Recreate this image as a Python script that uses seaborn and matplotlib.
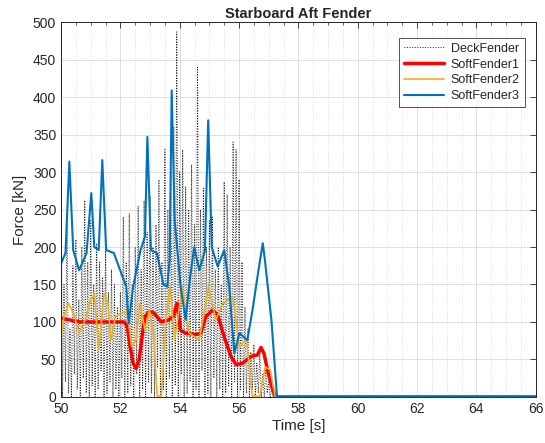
import numpy as np
import pandas as pd
import matplotlib
matplotlib.use("Agg")
import matplotlib.pyplot as plt
import seaborn as sns
from matplotlib.ticker import MultipleLocator

sns.set_style("white")
plt.rcParams['font.family'] = ['Liberation Sans', 'DejaVu Sans']

# ---------------- data ----------------
# DeckFender: oscillating contact force, peaks every 0.1 s starting 50.0, troughs in between
deck_peak_t0 = 50.0
deck_peaks = [280, 150, 235, 90, 175, 210, 130, 200, 262, 180,
              235, 150, 205, 180, 160, 195, 140, 170, 150, 120,
              140, 240, 180, 245, 150, 200, 255, 170, 262, 220,
              268, 200, 230, 290, 180, 330, 250, 300, 360, 487,
              300, 330, 280, 250, 310, 230, 440, 250, 280, 200,
              235, 240, 170, 200, 150, 287, 270, 200, 340, 330,
              290, 180, 120, 90, 60, 70, 45, 60, 30, 40,
              20, 10]
deck_troughs = [0, 20, 5, 0, 30, 10, 0, 25, 5, 0,
                15, 0, 10, 35, 0, 5, 20, 0, 10, 0,
                25, 0, 5, 15, 0, 30, 0, 10, 0, 20,
                5, 0, 40, 0, 10, 0, 25, 0, 15, 0,
                30, 0, 5, 20, 0, 10, 0, 35, 0, 5,
                0, 25, 0, 10, 0, 5, 15, 0, 20, 0,
                10, 0, 5, 0, 10, 0, 5, 0, 0, 5,
                0, 0]

sf1_t = [50.00, 50.25, 50.66, 52.13, 52.23, 52.33, 52.43, 52.53, 52.63, 52.73,
         52.83, 52.98, 53.13, 53.38, 53.63, 53.78, 53.91, 54.03, 54.20, 54.54,
         54.71, 54.88, 55.11, 55.28, 55.50, 55.73, 55.90, 56.12, 56.40, 56.62,
         56.74, 56.84, 56.96, 57.10, 57.22, 66.0]
sf1_f = [105, 103, 100, 100, 94, 67, 45, 38, 49, 80,
         107, 114, 112, 100, 103, 107, 125, 89, 85, 83,
         85, 107, 116, 109, 80, 54, 43, 45, 54, 56,
         66, 58, 36, 14, 0, 0]

sf2_t = [50.00, 50.10, 50.25, 50.41, 50.61, 50.81, 50.96, 51.12, 51.27, 51.45,
         51.57, 51.68, 51.83, 52.03, 52.23, 52.38, 52.53, 52.66, 52.83, 52.98,
         53.13, 53.24, 53.38, 53.53, 53.68, 53.83, 54.09, 54.32, 54.66, 54.97,
         55.22, 55.45, 55.79, 56.01, 56.25, 56.45, 56.70, 56.88, 57.05, 57.22,
         66.0]
sf2_f = [80, 107, 125, 112, 85, 103, 125, 138, 63, 138,
         129, 76, 107, 112, 114, 67, 76, 125, 89, 116,
         80, 1, 1, 103, 147, 76, 147, 85, 76, 147,
         103, 125, 134, 67, 76, 1, 1, 40, 36, 0,
         0]

sf3_t = [50.00, 50.15, 50.28, 50.41, 50.61, 50.86, 51.02, 51.12, 51.27, 51.39,
         51.52, 51.78, 52.03, 52.20, 52.28, 52.43, 52.68, 52.83, 52.91, 53.03,
         53.23, 53.45, 53.58, 53.66, 53.73, 53.83, 54.03, 54.20, 54.35, 54.49,
         54.66, 54.85, 54.96, 55.08, 55.28, 55.50, 55.67, 55.84, 56.01, 56.28,
         56.45, 56.62, 56.71, 56.80, 56.87, 57.09, 57.28, 66.0]
sf3_f = [178, 192, 314, 196, 169, 192, 272, 200, 196, 316,
         196, 192, 165, 147, 98, 147, 196, 214, 347, 196,
         192, 150, 147, 183, 409, 236, 147, 103, 160, 200,
         169, 195, 369, 200, 174, 196, 147, 58, 85, 76,
         115, 160, 183, 205, 183, 103, 0, 0]

x_ticks = [50, 52, 54, 56, 58, 60, 62, 64, 66]
y_ticks = [0, 50, 100, 150, 200, 250, 300, 350, 400, 450, 500]

# build deck series
deck_t, deck_f = [], []
for i, (p, tr) in enumerate(zip(deck_peaks, deck_troughs)):
    deck_t.append(round(deck_peak_t0 + 0.1 * i, 3))
    deck_f.append(p)
    deck_t.append(round(deck_peak_t0 + 0.1 * i + 0.05, 3))
    deck_f.append(tr)
deck_t += [57.25, 66.0]
deck_f += [0, 0]

# ---------------- plot ----------------
fig = plt.figure(figsize=(5.45, 4.43), dpi=100)
ax = fig.add_axes([0.112, 0.104, 0.871, 0.846])

sns.lineplot(x=deck_t, y=deck_f, ax=ax, color='#202020', linestyle=':', linewidth=0.7,
             label='DeckFender', estimator=None, sort=False)
sns.lineplot(x=sf1_t, y=sf1_f, ax=ax, color='#FF0000', linewidth=2.5,
             label='SoftFender1', estimator=None, sort=False)
sns.lineplot(x=sf2_t, y=sf2_f, ax=ax, color='#EDB120', linewidth=1.2,
             label='SoftFender2', estimator=None, sort=False)
sns.lineplot(x=sf3_t, y=sf3_f, ax=ax, color='#0072BD', linewidth=1.5,
             label='SoftFender3', estimator=None, sort=False)

ax.set_xlim(50, 66)
ax.set_ylim(0, 500)
ax.set_xticks(x_ticks)
ax.set_yticks(y_ticks)
ax.xaxis.set_minor_locator(MultipleLocator(0.5))
ax.grid(True, which='major', color='#d9d9d9', linewidth=0.6, linestyle='-')
ax.grid(True, which='minor', axis='x', color='#cccccc', linewidth=0.5, linestyle=':')
ax.set_axisbelow(True)
ax.tick_params(which='both', direction='in', top=True, right=True, colors='#262626',
               labelsize=10)
ax.tick_params(which='major', length=4, width=0.6)
ax.tick_params(which='minor', length=2, width=0.5)
for s in ax.spines.values():
    s.set_color('#262626')
    s.set_linewidth(0.7)

ax.set_title('Starboard Aft Fender', fontsize=10.5, fontweight='bold', pad=3)
ax.set_xlabel('Time [s]', fontsize=11, labelpad=2)
ax.set_ylabel('Force [kN]', fontsize=11, labelpad=4)

leg = ax.legend(loc='upper right', bbox_to_anchor=(0.99, 0.975), fontsize=9,
                frameon=True, fancybox=False, handlelength=3.2, borderpad=0.4,
                labelspacing=0.3, handletextpad=0.5)
leg.get_frame().set_edgecolor('#262626')
leg.get_frame().set_linewidth(0.7)

fig.savefig('out.png', dpi=100)
